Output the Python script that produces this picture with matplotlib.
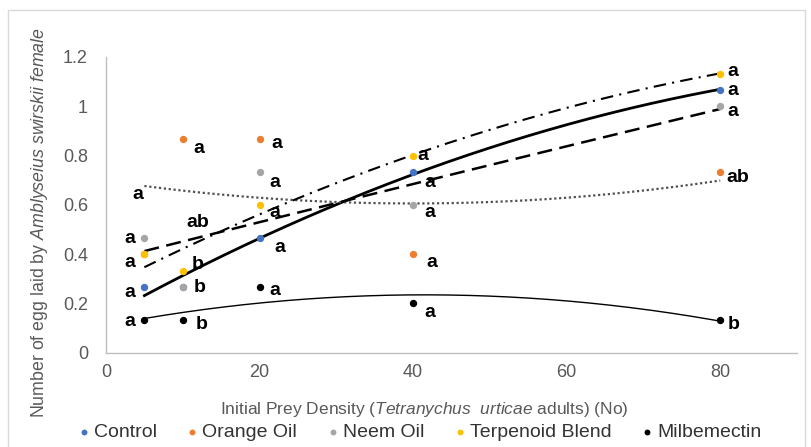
import numpy as np
import matplotlib
matplotlib.use('Agg')
import matplotlib.pyplot as plt
from matplotlib.patches import Rectangle

plt.rcParams['font.family'] = 'Liberation Sans'
plt.rcParams['mathtext.fontset'] = 'custom'
plt.rcParams['mathtext.rm'] = 'Liberation Sans'
plt.rcParams['mathtext.it'] = 'Liberation Sans:italic'

# Data
x_control = [5, 10, 20, 40, 80]
y_control = [0.267, 0.267, 0.467, 0.733, 1.067]
x_orange = [5, 10, 20, 40, 80]
y_orange = [0.4, 0.867, 0.867, 0.4, 0.733]
x_neem = [5, 10, 20, 40, 80]
y_neem = [0.467, 0.267, 0.733, 0.6, 1.0]
x_terp = [5, 10, 20, 40, 80]
y_terp = [0.4, 0.333, 0.6, 0.8, 1.133]
x_milb = [5, 10, 20, 40, 80]
y_milb = [0.133, 0.133, 0.267, 0.2, 0.133]

series_names = ['Control', 'Orange Oil', 'Neem Oil', 'Terpenoid Blend', 'Milbemectin']

# significance letters (x, y, letter)
letras = [
    (4.2, 0.64, 'a'), (3.1, 0.465, 'a'), (3.1, 0.364, 'a'), (3.1, 0.246, 'a'), (3.1, 0.125, 'a'),
    (11.9, 0.53, 'ab'), (12.1, 0.83, 'a'), (12.0, 0.356, 'b'), (12.2, 0.263, 'b'), (12.5, 0.113, 'b'),
    (22.3, 0.85, 'a'), (22.0, 0.69, 'a'), (22.0, 0.57, 'a'), (22.7, 0.425, 'a'), (22.0, 0.254, 'a'),
    (41.3, 0.80, 'a'), (42.2, 0.69, 'a'), (42.2, 0.567, 'a'), (42.5, 0.364, 'a'), (42.2, 0.165, 'a'),
    (81.6, 1.14, 'a'), (81.6, 1.066, 'a'), (81.6, 0.977, 'a'), (82.3, 0.709, 'ab'), (81.7, 0.113, 'b'),
]

fig = plt.figure(figsize=(8.11, 4.47), dpi=100)
ax = fig.add_axes([106 / 811, 0.211, (797 - 106) / 811, 0.8725 - 0.211])

series = [
    (x_control, y_control, '#4472C4', dict(color='black', lw=2.0, ls='-')),
    (x_orange, y_orange, '#ED7D31', dict(color='#505050', lw=1.6, ls=(0, (1, 1.2)))),
    (x_neem, y_neem, '#A5A5A5', dict(color='black', lw=1.8, ls=(0, (6, 3)))),
    (x_terp, y_terp, '#FFC000', dict(color='black', lw=1.5, ls=(0, (6, 3, 1, 3)))),
    (x_milb, y_milb, '#000000', dict(color='black', lw=1.0, ls='-')),
]

handles = []
for (xs, ys, cor, estilo), nome in zip(series, series_names):
    h = ax.scatter(xs, ys, s=28, color=cor, zorder=3, label=nome, linewidths=0)
    handles.append(h)

# Polynomial (order 2) trendlines
for xs, ys, cor, estilo in series:
    coef = np.polyfit(xs, ys, 2)
    xx = np.linspace(min(xs), max(xs), 200)
    ax.plot(xx, np.polyval(coef, xx), zorder=2, **estilo)

for x, y, t in letras:
    ax.text(x, y, t, fontsize=14, fontweight='bold', ha='center', va='center', color='black', zorder=4)

ax.set_xlim(0, 90)
ax.set_ylim(0, 1.2)
ax.set_xticks([0, 20, 40, 60, 80])
ax.set_yticks([0, 0.2, 0.4, 0.6, 0.8, 1.0, 1.2])
ax.set_yticklabels(['0', '0.2', '0.4', '0.6', '0.8', '1', '1.2'])
ax.tick_params(axis='y', length=0, pad=13, labelsize=13, labelcolor='#595959')
ax.tick_params(axis='x', length=0, pad=8, labelsize=13, labelcolor='#595959')
for lado in ['top', 'right']:
    ax.spines[lado].set_visible(False)
for lado in ['left', 'bottom']:
    ax.spines[lado].set_color('#bfbfbf')
    ax.spines[lado].set_linewidth(1.0)

fig.text(0.523, 0.083, r'Initial Prey Density ($\it{Tetranychus\ \ urticae}$ adults) (No)',
         ha='center', va='center', fontsize=12.5, color='#595959')
fig.text(0.049, 0.503, r'Number of egg laid by $\it{Amblyseius\ swirskii\ female}$',
         ha='center', va='center', rotation=90, fontsize=12.8, color='#595959')

leg = fig.legend(handles=handles, loc='center', bbox_to_anchor=(0.518, 0.034), ncol=5,
                 frameon=False, fontsize=14, handlelength=0.5, handletextpad=0.25,
                 columnspacing=1.6, markerscale=0.8)
for t in leg.get_texts():
    t.set_color('#333333')

fig.patches.append(Rectangle((8 / 811, -0.01), (805 - 8) / 811, 0.978 + 0.01,
                             transform=fig.transFigure, fill=False,
                             edgecolor='#d9d9d9', linewidth=1.0))

plt.savefig('out.png', dpi=100)
